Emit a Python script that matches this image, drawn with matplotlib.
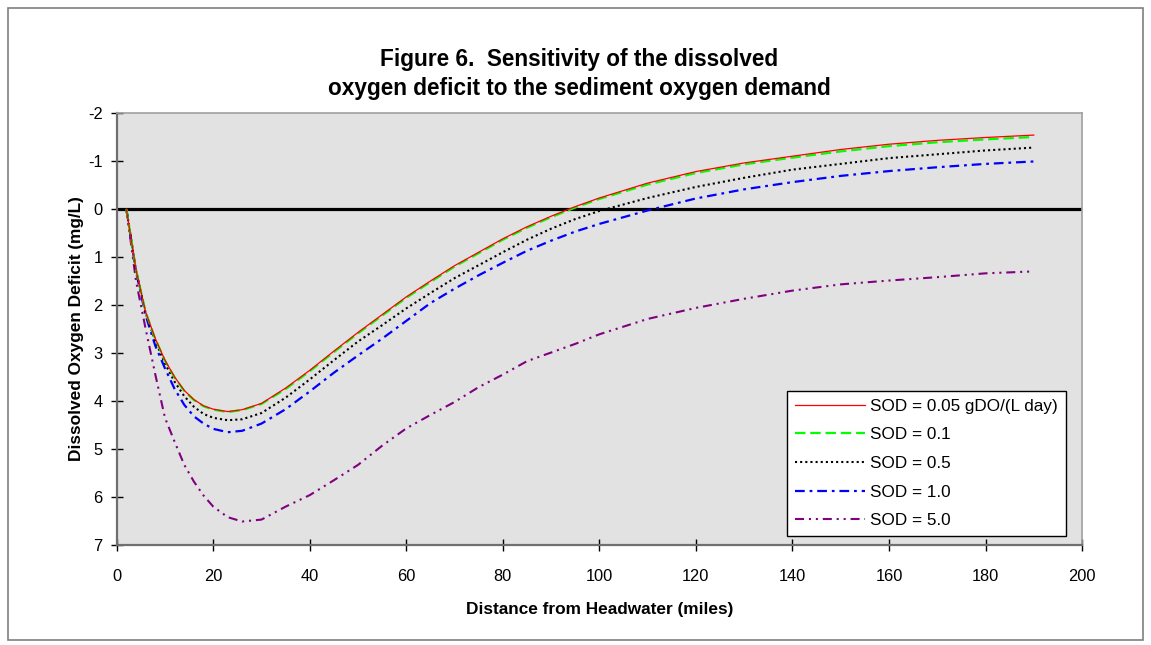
import numpy as np
import matplotlib
matplotlib.use("Agg")
import matplotlib.pyplot as plt
from matplotlib.patches import Rectangle

plt.rcParams['font.family'] = ['Liberation Sans', 'DejaVu Sans']
plt.rcParams['axes.unicode_minus'] = False
plt.rcParams['lines.scale_dashes'] = False

# distance from headwater (miles)
distance = [2, 4, 6, 8, 10, 12, 14, 16, 18, 20, 23, 26, 30, 35, 40, 45, 50, 55, 60, 65, 70,
            75, 80, 85, 90, 95, 100, 110, 120, 130, 140, 150, 160, 170, 180, 190]

# dissolved oxygen deficit (mg/L) for each SOD value
sod_005 = [0, 1.27, 2.15, 2.70, 3.15, 3.50, 3.78, 3.97, 4.10, 4.17, 4.22, 4.18, 4.05, 3.73, 3.36,
           2.96, 2.57, 2.20, 1.83, 1.50, 1.18, 0.90, 0.62, 0.37, 0.15, -0.05, -0.23, -0.54, -0.78,
           -0.96, -1.10, -1.24, -1.35, -1.43, -1.49, -1.54]
sod_01 = [0, 1.27, 2.15, 2.71, 3.16, 3.51, 3.79, 3.98, 4.11, 4.18, 4.23, 4.19, 4.06, 3.75, 3.38,
          2.98, 2.59, 2.22, 1.85, 1.52, 1.20, 0.92, 0.64, 0.39, 0.17, -0.03, -0.21, -0.51, -0.75,
          -0.93, -1.07, -1.20, -1.31, -1.39, -1.45, -1.50]
sod_05 = [0, 1.28, 2.17, 2.75, 3.22, 3.60, 3.90, 4.12, 4.27, 4.35, 4.40, 4.38, 4.25, 3.93, 3.55,
          3.15, 2.76, 2.42, 2.07, 1.75, 1.44, 1.17, 0.90, 0.64, 0.41, 0.21, 0.04, -0.23, -0.46,
          -0.65, -0.82, -0.94, -1.06, -1.14, -1.22, -1.28]
sod_1 = [0, 1.30, 2.22, 2.85, 3.32, 3.75, 4.08, 4.32, 4.47, 4.58, 4.65, 4.62, 4.47, 4.17, 3.80,
         3.41, 3.05, 2.70, 2.33, 1.96, 1.66, 1.38, 1.12, 0.87, 0.66, 0.47, 0.31, 0.03, -0.22,
         -0.41, -0.56, -0.69, -0.79, -0.87, -0.94, -0.99]
sod_5 = [0, 1.50, 2.50, 3.45, 4.35, 4.85, 5.33, 5.68, 5.97, 6.20, 6.42, 6.51, 6.47, 6.20, 5.96,
         5.65, 5.33, 4.93, 4.57, 4.29, 4.02, 3.71, 3.45, 3.17, 2.99, 2.81, 2.61, 2.29, 2.06,
         1.87, 1.70, 1.57, 1.49, 1.42, 1.34, 1.30]

x_ticks = list(range(0, 201, 20))
y_ticks = list(range(-2, 8))

fig = plt.figure(figsize=(11.51, 6.45), dpi=100)
ax = fig.add_axes([0.1014, 0.155, 0.8387, 0.6698])

# borda externa do gráfico
fig.patches.append(Rectangle((8 / 1151, 5 / 645), 1135 / 1151, 632 / 645, transform=fig.transFigure,
                             fill=False, edgecolor='#7f7f7f', linewidth=1.2))

ax.set_facecolor('#e2e2e2')
ax.axhline(0, color='black', linewidth=2.3, zorder=2)

ax.plot(distance, sod_5, color='#800080', linewidth=1.5, dashes=(6.5, 3.5, 1.5, 3.5, 1.5, 3.5),
        label='SOD = 5.0', zorder=3)
ax.plot(distance, sod_1, color='#0000ff', linewidth=1.6, dashes=(7, 3.5, 2, 3.5),
        label='SOD = 1.0', zorder=4)
ax.plot(distance, sod_05, color='black', linewidth=1.5, dashes=(1.5, 2.2),
        label='SOD = 0.5', zorder=5)
ax.plot(distance, sod_01, color='#00ff00', linewidth=1.6, dashes=(7.5, 3.5),
        label='SOD = 0.1', zorder=6)
ax.plot(distance, sod_005, color='#ff0000', linewidth=0.9,
        label='SOD = 0.05 gDO/(L day)', zorder=7)

ax.set_xlim(0, 200)
ax.set_ylim(7, -2)
ax.set_xticks(x_ticks)
ax.set_yticks(y_ticks)
ax.tick_params(axis='x', direction='inout', length=8, width=1, colors='black', labelsize=11.8, pad=13)
ax.tick_params(axis='y', direction='inout', length=8, width=1, colors='black', labelsize=11.8, pad=6)

for side in ['left', 'bottom']:
    ax.spines[side].set_color('#6f6f6f')
    ax.spines[side].set_linewidth(1.6)
for side in ['top', 'right']:
    ax.spines[side].set_color('#a0a0a0')
    ax.spines[side].set_linewidth(1.2)

ax.set_xlabel('Distance from Headwater (miles)', fontsize=12.4, fontweight='bold', labelpad=13)
ax.set_ylabel('Dissolved Oxygen Deficit (mg/L)', fontsize=12.4, fontweight='bold', labelpad=3)

fig.text(0.503, 0.885, 'Figure 6.  Sensitivity of the dissolved\noxygen deficit to the sediment oxygen demand',
         ha='center', va='center', fontsize=16.3, fontweight='bold', linespacing=1.35)

handles, labels = ax.get_legend_handles_labels()
leg = ax.legend(handles[::-1], labels[::-1], loc='lower right', bbox_to_anchor=(0.983, 0.021),
                borderaxespad=0, fontsize=12.3, handlelength=4.1, handletextpad=0.3,
                labelspacing=0.8, borderpad=0.45, fancybox=False, frameon=True)
leg.get_frame().set_edgecolor('black')
leg.get_frame().set_linewidth(1.0)
leg.get_frame().set_facecolor('white')
leg.get_frame().set_alpha(1)

fig.savefig('out.png', dpi=100)
